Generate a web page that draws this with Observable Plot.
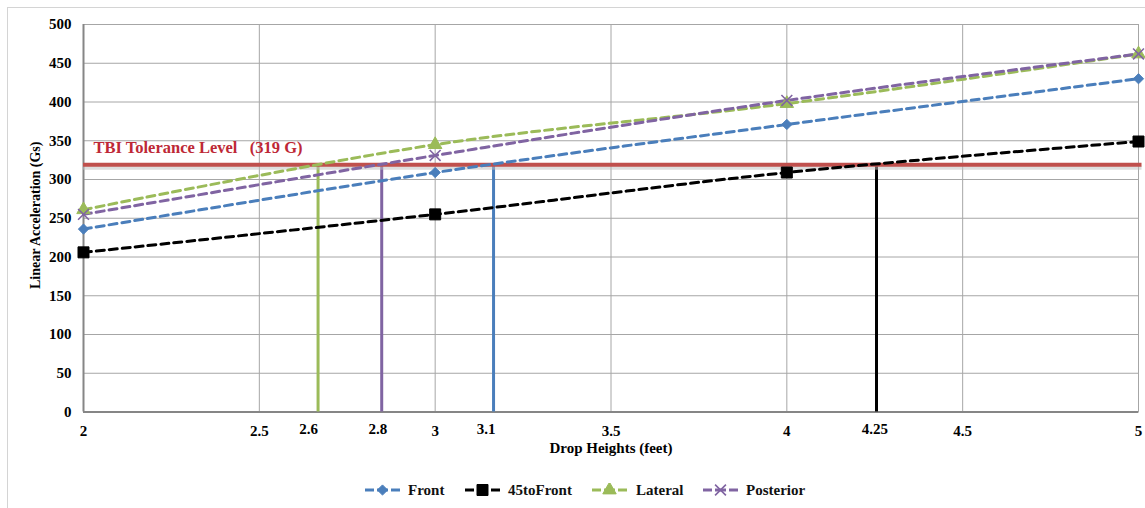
<!DOCTYPE html>
<html>
<head>
<meta charset="utf-8">
<script src="https://cdn.jsdelivr.net/npm/d3@7"></script>
<script src="https://cdn.jsdelivr.net/npm/@observablehq/plot@0.6"></script>
<style>
  body { margin: 0; background: #fff; }
  #wrap { position: relative; width: 1145px; height: 508px; overflow: hidden; font-family: "Liberation Serif", serif; }
  #frame { position: absolute; left: 7px; top: 7px; width: 1145px; height: 520px; border: 1px solid #d4d4d4; pointer-events: none; }
  #chart { position: absolute; left: 0; top: 0; }
  #legend { position: absolute; left: 0; top: 480px; width: 1145px; height: 20px; font-weight: bold; font-size: 15px; color: #111; }
  .sym { position: absolute; top: 3px; }
  .lab { position: absolute; top: 0; line-height: 20px; white-space: nowrap; }
</style>
</head>
<body>
<div id="wrap">
  <div id="chart"></div>
  <div id="legend"></div>
  <div id="frame"></div>
</div>
<script>
// ---- data ----
const heights = [2, 3, 4, 5];
const front = [236, 309, 371, 430];
const toFront45 = [206, 255, 309, 349];
const lateral = [261, 345, 398, 462];
const posterior = [255, 331, 402, 462];
const seriesNames = ["Front", "45toFront", "Lateral", "Posterior"];
const seriesValues = [front, toFront45, lateral, posterior];
const tolerance = 319;
const toleranceLabel = "TBI Tolerance Level\u00a0\u00a0\u00a0(319 G)";
const crossSeries = ["Lateral", "Posterior", "Front", "45toFront"];
const crossX = [2.667, 2.848, 3.166, 4.255];
const crossLabels = ["2.6", "2.8", "3.1", "4.25"];
const crossLabelX = [2.64, 2.837, 3.145, 4.25];
const xTicks = [2, 2.5, 3, 3.5, 4, 4.5, 5];
const yTicks = [0, 50, 100, 150, 200, 250, 300, 350, 400, 450, 500];
const xTitle = "Drop Heights (feet)";
const yTitle = "Linear Acceleration (Gs)";

// ---- styles ----
const colors = ["#4a7ebb", "#000000", "#9bbb59", "#8064a2"];
const symbols = ["diamond2", "square", "triangle", "times"];
const radii = [4.6, 6.2, 5, 5];
const colorOf = Object.fromEntries(seriesNames.map((s, i) => [s, colors[i]]));
const legendSymLeft = [365, 465, 592, 703];
const legendTextLeft = [408, 508, 636, 746];

const rows = seriesNames.flatMap((s, i) => heights.map((h, j) => ({series: s, h, v: seriesValues[i][j]})));
const crossings = crossX.map((x, i) => ({x, series: crossSeries[i]}));
const crossTicks = crossLabelX.map((x, i) => ({x, label: crossLabels[i]}));

const font = "Liberation Serif";
const dash = "8,5";
const fs = 15;

const marks = [
  Plot.gridX(xTicks, {stroke: "#a6a6a6", strokeOpacity: 1}),
  Plot.gridY(yTicks, {stroke: "#a6a6a6", strokeOpacity: 1}),
  Plot.frame({stroke: "#a6a6a6"}),
  Plot.ruleX([xTicks[0]], {stroke: "#868686", strokeWidth: 2}),
  Plot.ruleY([yTicks[0]], {stroke: "#868686", strokeWidth: 2}),
  // crossing verticals
  Plot.ruleX(crossings, {x: "x", y1: 0, y2: tolerance, stroke: d => colorOf[d.series], strokeWidth: 3}),
  // tolerance line with soft shadow
  Plot.ruleY([tolerance], {x1: 2, x2: 5.01, stroke: "#bdbdbd", strokeWidth: 4, dy: 3, strokeOpacity: 0.5}),
  Plot.ruleY([tolerance], {x1: 2, x2: 5.01, stroke: "#c0504d", strokeWidth: 4}),
  Plot.text([toleranceLabel], {frameAnchor: "left", y: () => tolerance, dx: 10, dy: -17, textAnchor: "start",
    fill: "#be2836", fontSize: 16.5, fontWeight: "bold", fontFamily: font}),
  // series lines
  Plot.line(rows, {x: "h", y: "v", z: "series", stroke: d => colorOf[d.series], strokeWidth: 3,
    strokeDasharray: dash, curve: "catmull-rom"}),
];
seriesNames.forEach((s, i) => {
  const isStroke = symbols[i] === "times";
  marks.push(Plot.dot(rows.filter(d => d.series === s), {
    x: "h", y: "v", symbol: () => symbols[i], r: radii[i],
    fill: isStroke ? "none" : colors[i], stroke: colors[i], strokeWidth: isStroke ? 1.6 : 1
  }));
});
// axes
marks.push(
  Plot.text(yTicks, {x: () => 2, y: d => d, dx: -12, textAnchor: "end", text: d => String(d), fontSize: fs, fontWeight: "bold", fontFamily: font}),
  Plot.text(xTicks, {x: d => d, y: () => 0, dy: 19, text: d => String(d), fontSize: fs, fontWeight: "bold", fontFamily: font}),
  Plot.text(crossTicks, {x: "x", y: () => 0, dy: 17, text: "label", fontSize: fs, fontWeight: "bold", fontFamily: font}),
  Plot.text([xTitle], {frameAnchor: "bottom", dy: 41, textAnchor: "middle", fontSize: fs, fontWeight: "bold", fontFamily: font}),
  Plot.text([yTitle], {frameAnchor: "left", dx: -48, dy: -3, rotate: -90, textAnchor: "middle", fontSize: 14, fontWeight: "bold", fontFamily: font})
);

const chart = Plot.plot({
  width: 1145,
  height: 465,
  marginLeft: 83,
  marginRight: 7,
  marginTop: 24,
  marginBottom: 53.5,
  x: {domain: [2, 5], axis: null},
  y: {domain: [0, 500], axis: null},
  symbol: {type: "identity"},
  style: {fontFamily: font, color: "#000", background: "transparent", overflow: "visible"},
  marks
});
document.getElementById("chart").appendChild(chart);

// ---- legend ----
const legend = document.getElementById("legend");
seriesNames.forEach((s, i) => {
  const svg = d3.create("svg").attr("class", "sym").attr("width", 36).attr("height", 14)
    .style("left", legendSymLeft[i] + "px");
  svg.append("line").attr("x1", 0).attr("x2", 9).attr("y1", 7).attr("y2", 7)
    .attr("stroke", colors[i]).attr("stroke-width", 3);
  svg.append("line").attr("x1", 26).attr("x2", 35).attr("y1", 7).attr("y2", 7)
    .attr("stroke", colors[i]).attr("stroke-width", 3);
  svg.append("line").attr("x1", 12).attr("x2", 23).attr("y1", 7).attr("y2", 7)
    .attr("stroke", colors[i]).attr("stroke-width", 3);
  const symType = {diamond2: d3.symbolDiamond2, square: d3.symbolSquare, triangle: d3.symbolTriangle, times: d3.symbolTimes}[symbols[i]];
  const isStroke = symbols[i] === "times";
  svg.append("path").attr("transform", "translate(17.5,7)")
    .attr("d", d3.symbol(symType, Math.PI * radii[i] * radii[i])())
    .attr("fill", isStroke ? "none" : colors[i]).attr("stroke", colors[i]).attr("stroke-width", isStroke ? 1.6 : 1);
  legend.appendChild(svg.node());
  const label = document.createElement("span");
  label.className = "lab";
  label.style.left = legendTextLeft[i] + "px";
  label.textContent = s;
  legend.appendChild(label);
});
</script>
</body>
</html>
